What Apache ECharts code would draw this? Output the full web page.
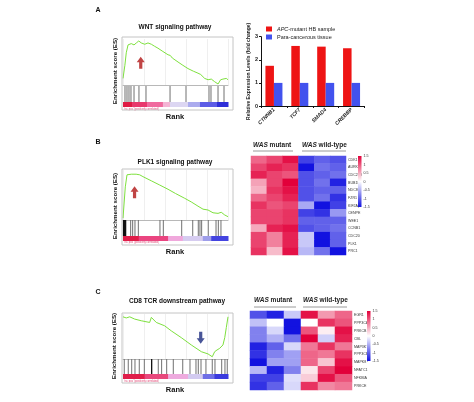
<!DOCTYPE html>
<html><head><meta charset="utf-8">
<script src="https://cdn.jsdelivr.net/npm/echarts@6/dist/echarts.min.js"></script>
<style>html,body{margin:0;padding:0;background:#fff}#c{width:474px;height:402px}</style>
</head><body><div id="c"></div>
<script>
const FONT = 'Liberation Sans, Arial, sans-serif';

// ---- Panel A: GSEA WNT ----
const rankA = [0,1,1.8,3.1,4.8,6.4,7.9,10.5,12.7,15,17.4,20.7,23.8,27,30,33.3,38,42.9,45,47,52.4,57,61.9,63.5,67,71.4,74,77.8,81,84.1,87.3,90.5,93,95.2,96.9,98.4,100];
const esA   = [0,0.02,0.2,0.39,0.51,0.49,0.53,0.51,0.54,0.57,0.54,0.52,0.54,0.52,0.49,0.46,0.41,0.36,0.35,0.31,0.25,0.2,0.15,0.14,0.11,0.08,0.06,0.0,-0.02,-0.01,-0.05,-0.085,-0.02,-0.01,-0.035,0,-0.02];
const hitsA = [1.9,3.8,5.7,7.6,10.5,15.2,21.9,44.8,60,81.9,83.8,90.5,96.2];
const hitsAStrong = [];
const cbarBreaksA = [0,8.6,22.9,38,44.8,61.9,73.3,89.5,100];
const cbarColorsA = ['#e01a44','#e8386c','#f06a9e','#f4b4d4','#dcd6f2','#ababee','#5c5ce6','#2e2ed8'];
const arrowA = [16.9, 0.24];

// ---- Panel A: bar chart ----
const genesBar = ['CTNNB1','TCF7','SMAD4','CREBBP'];
const valMutant = [1.74, 2.6, 2.57, 2.5];
const valPara = [1.0, 1.0, 1.0, 1.0];
const yTicksBar = [0,1,2,3];

// ---- Panel B: GSEA PLK1 ----
const rankB = [0,0.7,2.2,3.8,7.9,12.5,15.9,19,27,35,42.9,50,58.8,65,71.4,76.2,81,85.7,87.3,90.5,93.6,96.9,100];
const esB   = [0,0.02,0.52,0.72,0.73,0.73,0.72,0.69,0.62,0.55,0.48,0.41,0.33,0.27,0.2,0.15,0.136,0.09,0.108,0.08,0.098,0.053,0.025];
const hitsB = [7.3,9.2,11.4,14.6,35.2,38.4,55.9,66.4,71.7,73.3,74.9,81.2,88.6,90.8,93.3];
const hitsBStrong = [0.5,1,1.5,2,2.5];
const cbarBreaksB = [0,15,43,57,76,84,100];
const cbarColorsB = ['#e01c48','#ea4580','#f0a8dc','#d6ccf0','#9e9eea','#4444e0'];
const arrowB = [11, 0.43];

// ---- Panel B: heatmap ----
const colsHeat = ['M1','M2','M3','W1','W2','W3'];
const genesB = ['CDK1','AURKB','CDC25B','BUB1B','NDC80','FZR1','KIF2A','CENPE','WEE1','CCNB1','CDC20','PLK1','PRC1'];
const heatB = [
 [0.9,1.1,1.4,-1.2,-1.0,-1.1],
 [1.1,1.3,1.2,-1.5,-0.9,-1.0],
 [1.3,1.1,1.0,-1.1,-1.0,-0.9],
 [0.55,1.1,1.5,-1.1,-0.9,-1.4],
 [0.45,1.2,1.4,-1.1,-1.0,-1.0],
 [0.9,1.1,1.3,-1.1,-0.9,-1.3],
 [1.2,1.0,1.1,-0.55,-1.5,-1.2],
 [1.1,1.1,1.2,-1.2,-1.3,-0.65],
 [1.1,1.1,1.2,-1.0,-1.0,-1.0],
 [0.5,1.3,1.4,-1.1,-1.0,-0.9],
 [1.1,0.75,1.3,-0.35,-1.5,-1.0],
 [1.1,0.75,1.3,-0.35,-1.5,-1.0],
 [1.2,0.4,1.4,-0.45,-0.9,-1.5]
];

// ---- Panel C: GSEA CD8 TCR ----
const rankC = [0,3.1,6.4,11.1,17.4,25.4,27,28.6,31.7,39.7,46,55.5,65,74.6,81,85,87.3,89.5,92.1,95.2,96.9,98.4,100];
const esC   = [0,-0.02,0,-0.04,-0.07,-0.1,-0.01,-0.04,-0.1,-0.16,-0.25,-0.37,-0.5,-0.62,-0.66,-0.71,-0.62,-0.59,-0.56,-0.5,-0.37,-0.19,0];
const hitsC = [1.2,5,8.3,11.4,15.5,20.3,33.6,36.8,41.6,47.9,56.9,63.8,69.5,71.7,74.3,79,85,87.6,94,97.1,99.3];
const hitsCStrong = [27.3];
const cbarBreaksC = [0,20.6,43,62,76,87,100];
const cbarColorsC = ['#e01e4a','#e8487c','#eeaade','#d2caf0','#6e6ee6','#3a3ade'];
const arrowC = [74, -0.37];

// ---- Panel C: heatmap ----
const genesC = ['EGR1','PPP3CA','PRKCB','CBL','MAP3K7','PPP3CB','MAPK8','NFATC1','NFKBIA','PRKCE'];
const heatC = [
 [-1.1,-1.4,-0.35,1.4,0.6,0.9],
 [-0.4,0.0,-1.5,0.0,1.2,1.0],
 [-0.8,-0.25,-1.5,1.0,0.1,1.4],
 [-0.8,-0.5,-0.9,1.5,-0.3,1.3],
 [-1.4,-1.0,-0.25,0.8,1.2,0.8],
 [-1.3,-0.8,-0.6,0.9,0.8,1.2],
 [-1.5,-0.6,-0.6,0.9,0.35,1.4],
 [-0.45,-1.4,-0.8,0.15,1.1,1.5],
 [-1.2,-1.2,-0.2,0.3,1.4,1.0],
 [-1.3,-1.0,-0.25,1.2,0.7,0.8]
];
const scaleTicks = [1.5,1,0.5,0,-0.5,-1,-1.5];

// ================= build =================
const HEAT_RED = '#e2003a', HEAT_BLUE = '#1212e0';
const grids=[], xAxes=[], yAxes=[], series=[];
function addGrid(g, xa, ya){
  grids.push(g); const i = grids.length-1;
  xAxes.push(Object.assign({gridIndex:i}, xa));
  yAxes.push(Object.assign({gridIndex:i}, ya));
  return i;
}
const hidden = {axisLabel:{show:false},axisTick:{show:false},axisLine:{show:false},splitLine:{show:false}};
const UP = 'path://M5,0 L10,5.5 L7,5.5 L7,12 L3,12 L3,5.5 L0,5.5 Z';
const DOWN = 'path://M3,0 L7,0 L7,6.5 L10,6.5 L5,12 L0,6.5 L3,6.5 Z';

function gsea(L, ranks, es, yMin, yMax, hits, strong, breaks, colors, arrow, arrowPath, arrowColor){
  const g1 = addGrid({left:L.x, top:L.esTop, width:L.w, height:L.esH},
    {type:'value',min:0,max:100,interval:20,axisLabel:{show:false},axisTick:{show:false},
     axisLine:{show:true,onZero:false,lineStyle:{color:'#b8b8b8',width:1}},
     splitLine:{show:true,lineStyle:{color:'#efefef',width:1}}},
    Object.assign({type:'value',min:yMin,max:yMax}, hidden));
  series.push({type:'line',xAxisIndex:g1,yAxisIndex:g1,data:ranks.map((r,i)=>[r,es[i]]),
    symbol:'none',lineStyle:{color:'#7ee03e',width:1},silent:true,animation:false,z:3});
  series.push({type:'scatter',xAxisIndex:g1,yAxisIndex:g1,data:[arrow],symbol:arrowPath,
    symbolSize:[8,12],itemStyle:{color:arrowColor},silent:true,animation:false,z:4});
  const g2 = addGrid({left:L.x, top:L.hitTop, width:L.w, height:L.hitH},
    Object.assign({type:'value',min:0,max:100}, hidden),
    Object.assign({type:'value',min:0,max:1}, hidden));
  const lineItem = (col, w) => (p, api) => {
    const a = api.coord([api.value(0),0]), b = api.coord([api.value(0),1]);
    return {type:'line',shape:{x1:a[0],y1:a[1],x2:b[0],y2:b[1]},style:{stroke:col,lineWidth:w}};
  };
  series.push({type:'custom',xAxisIndex:g2,yAxisIndex:g2,data:hits.map(h=>[h,0]),
    renderItem:lineItem('#707070',1),silent:true,animation:false});
  series.push({type:'custom',xAxisIndex:g2,yAxisIndex:g2,data:strong.map(h=>[h,0]),
    renderItem:lineItem('#111',1.3),silent:true,animation:false});
  const g3 = addGrid({left:L.x, top:L.cbTop, width:L.w, height:L.cbH},
    Object.assign({type:'value',min:0,max:100}, hidden),
    Object.assign({type:'value',min:0,max:1}, hidden));
  const segs = colors.map((c,i)=>[breaks[i],breaks[i+1],i]);
  series.push({type:'custom',xAxisIndex:g3,yAxisIndex:g3,data:segs,
    renderItem:(p,api)=>{
      const a = api.coord([api.value(0),1]), b = api.coord([api.value(1),0]);
      return {type:'rect',shape:{x:a[0],y:a[1],width:b[0]-a[0]+0.5,height:b[1]-a[1]},
        style:{fill:colors[api.value(2)]}};
    },silent:true,animation:false});
}

gsea({x:123,w:105,esTop:39,esH:46,hitTop:86,hitH:16,cbTop:102,cbH:5},
  rankA, esA, -0.1, 0.6, hitsA, hitsAStrong, cbarBreaksA, cbarColorsA, arrowA, UP, '#b01515');
gsea({x:123,w:105,esTop:170,esH:50,hitTop:220,hitH:16,cbTop:236,cbH:5},
  rankB, esB, -0.03, 0.8, hitsB, hitsBStrong, cbarBreaksB, cbarColorsB, arrowB, UP, '#b01515');
gsea({x:123,w:105,esTop:314,esH:45,hitTop:359,hitH:15,cbTop:374,cbH:5},
  rankC, esC, -0.75, 0.05, hitsC, hitsCStrong, cbarBreaksC, cbarColorsC, arrowC, DOWN, '#1c2a7e');

// bar chart
const gBar = addGrid({left:261, top:36.7, width:103.5, height:69.3},
  {type:'category',data:genesBar,axisLine:{lineStyle:{color:'#111',width:1}},
   axisTick:{show:true,length:2,lineStyle:{color:'#111'}},
   axisLabel:{rotate:45,fontSize:5.2,fontStyle:'italic',fontWeight:'bold',color:'#222',margin:3,fontFamily:FONT}},
  {type:'value',min:0,max:3,interval:1,
   axisLine:{show:true,lineStyle:{color:'#111',width:1}},
   axisTick:{show:true,length:2,lineStyle:{color:'#111'}},
   axisLabel:{fontSize:5.5,color:'#222',margin:3,fontFamily:FONT,fontWeight:'bold'},
   splitLine:{show:false},
   name:'Relative Expression Levels (fold change)',nameLocation:'middle',nameGap:9,
   nameTextStyle:{fontSize:5,fontWeight:'bold',color:'#222',fontFamily:FONT}});
series.push({name:'APC-mutant HB sample',type:'bar',xAxisIndex:gBar,yAxisIndex:gBar,data:valMutant,
  barWidth:8.5,barGap:'0%',itemStyle:{color:'#ee1414'},animation:false});
series.push({name:'Para-cancerous tissue',type:'bar',xAxisIndex:gBar,yAxisIndex:gBar,data:valPara,
  barWidth:8.5,barGap:'0%',itemStyle:{color:'#4252ee'},animation:false});

// heatmaps
function heatmap(L, genes, rows){
  const g = addGrid({left:L.x, top:L.y, width:L.w, height:L.h},
    {type:'category',data:colsHeat,show:false},
    {type:'category',data:genes,inverse:true,position:'right',axisLine:{show:false},axisTick:{show:false},
     axisLabel:{fontSize:3.6,margin:2,color:'#333',fontFamily:FONT}});
  series.push({type:'heatmap',xAxisIndex:g,yAxisIndex:g,
    data:rows.flatMap((r,ri)=>r.map((v,ci)=>[ci,ri,v])),animation:false,silent:true});
  return series.length-1;
}
const sB = heatmap({x:251,y:156,w:95,h:99}, genesB, heatB);
const sC = heatmap({x:250,y:311,w:102,h:79}, genesC, heatC);

function scaleBar(L){
  const g = addGrid({left:L.x, top:L.y, width:L.w, height:L.h},
    Object.assign({type:'value',min:0,max:1}, hidden),
    {type:'value',min:-1.5,max:1.5,interval:0.5,position:'right',
     axisLine:{show:false},axisTick:{show:true,length:1,lineStyle:{color:'#888',width:0.5}},splitLine:{show:false},
     axisLabel:{fontSize:3.6,margin:2,color:'#333',fontFamily:FONT,
       formatter:v=>scaleTicks.includes(v)?String(v):''}});
  series.push({type:'custom',xAxisIndex:g,yAxisIndex:g,data:[[0,0]],silent:true,animation:false,
    renderItem:(p,api)=>{
      const a=api.coord([0,1.5]), b=api.coord([1,-1.5]);
      return {type:'rect',shape:{x:a[0],y:a[1],width:b[0]-a[0],height:b[1]-a[1]},
        style:{fill:new echarts.graphic.LinearGradient(0,0,0,1,[
          {offset:0,color:HEAT_RED},{offset:0.5,color:'#ffffff'},{offset:1,color:HEAT_BLUE}])}};
    }});
}
scaleBar({x:358,y:156,w:3.5,h:51});
scaleBar({x:367,y:311,w:3.5,h:50});

// ---- texts & decorations ----
function txt(x,y,text,size,opt){
  opt = opt||{};
  return {type:'text',x:x,y:y,rotation:opt.rot||0,silent:true,
    style:Object.assign({text:text,fontSize:size,fontFamily:FONT,fontWeight:opt.weight||'bold',
      fill:opt.fill||'#111',align:opt.align||'center',verticalAlign:'middle',
      textAlign:opt.align||'center',textVerticalAlign:'middle'}, opt.style||{})};
}
const richHdr = {i:{fontStyle:'italic',fontWeight:'bold',fontSize:6.5,fontFamily:FONT,fill:'#222',color:'#222'},
                 n:{fontWeight:'bold',fontSize:6.5,fontFamily:FONT,fill:'#222',color:'#222'}};
function hdr(x,y,text){
  return {type:'text',x:x,y:y,silent:true,style:{text:text,rich:richHdr,fontSize:6.5,fontFamily:FONT,
    align:'left',verticalAlign:'middle',textAlign:'left',textVerticalAlign:'middle'}};
}
function hline(x1,x2,y){
  return {type:'line',silent:true,shape:{x1:x1,y1:y,x2:x2,y2:y},style:{stroke:'#9a9a9a',lineWidth:1}};
}
function frame(x,y,w,h){
  return {type:'rect',silent:true,shape:{x:x,y:y,width:w,height:h},style:{fill:'none',stroke:'#c4c4c4',lineWidth:1},z:10};
}
const graphic = [
  txt(98,10,'A',7), txt(98,142,'B',7), txt(98,292,'C',7),
  txt(175,27,'WNT signaling pathway',6.5),
  txt(175,162,'PLK1 signaling pathway',6.5),
  txt(177,301,'CD8 TCR downstream pathway',6.5),
  txt(115,71,'Enrichment score (ES)',6.2,{rot:Math.PI/2}),
  txt(115,206,'Enrichment score (ES)',6.2,{rot:Math.PI/2}),
  txt(114,346,'Enrichment score (ES)',6.2,{rot:Math.PI/2}),
  txt(175,117,'Rank',7.5), txt(175,252,'Rank',7.5), txt(175,390,'Rank',7.5),
  frame(122,37,111,73), frame(122,169,111,76), frame(122,313,111,70),
  txt(124,108.8,"'na_pos' (positively correlated)",2.6,{align:'left',weight:'normal',fill:'#e04070'}),
  txt(124,242.5,"'na_pos' (positively correlated)",2.6,{align:'left',weight:'normal',fill:'#e04070'}),
  txt(124,380.8,"'na_pos' (positively correlated)",2.6,{align:'left',weight:'normal',fill:'#e04070'}),
  hdr(253,145,'{i|WAS} {n|mutant}'), hdr(302,145,'{i|WAS} {n|wild-type}'),
  hline(253,293,151), hline(302,346,151),
  hdr(254,300,'{i|WAS} {n|mutant}'), hdr(303,300,'{i|WAS} {n|wild-type}'),
  hline(254,296,307), hline(303,347,307)
];

const chart = echarts.init(document.getElementById('c'), null, {renderer:'canvas'});
chart.setOption({
  backgroundColor:'#ffffff',
  animation:false,
  textStyle:{fontFamily:FONT},
  grid:grids, xAxis:xAxes, yAxis:yAxes, series:series,
  visualMap:{type:'continuous',show:false,min:-1.5,max:1.5,seriesIndex:[sB,sC],
    inRange:{color:[HEAT_BLUE,'#ffffff',HEAT_RED]}},
  legend:{data:['APC-mutant HB sample','Para-cancerous tissue'],orient:'vertical',left:266,top:26,
    itemWidth:6,itemHeight:5,itemGap:2,icon:'rect',padding:0,selectedMode:false,
    formatter:n=>n.indexOf('APC')===0?'{i|APC}{n|-mutant HB sample}':'{n|'+n+'}',
    textStyle:{fontSize:5.5,color:'#222',fontFamily:FONT,
      rich:{i:{fontStyle:'italic',fontSize:5.5,color:'#222'},n:{fontSize:5.5,color:'#222'}}}},
  graphic:graphic
});
</script></body></html>
